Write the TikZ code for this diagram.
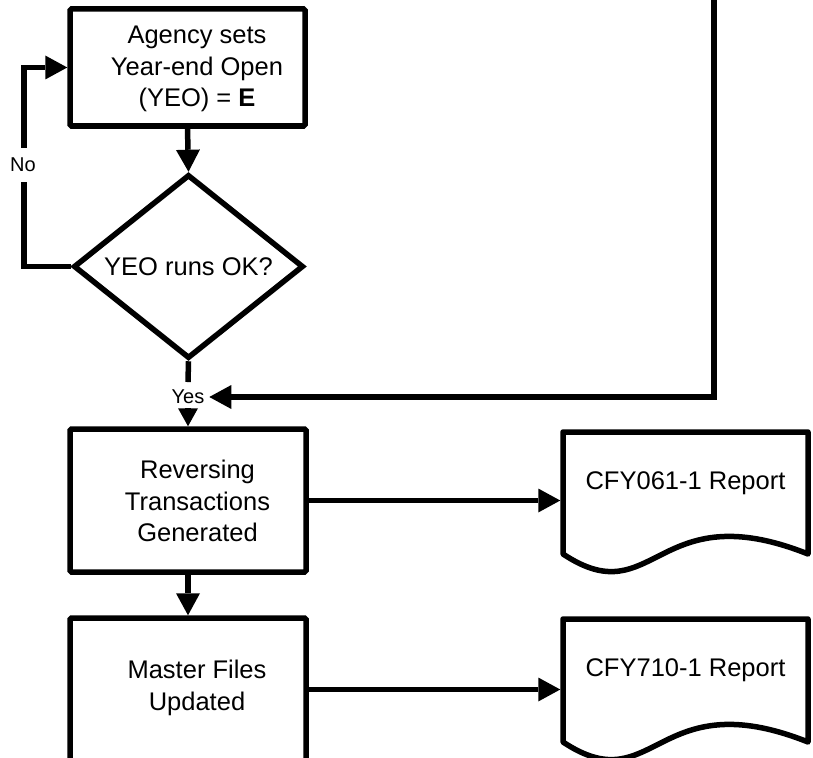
\documentclass[tikz,border=0pt]{standalone}
\usepackage{fontspec}
\setmainfont{Liberation Sans}
\usetikzlibrary{arrows.meta,shapes.geometric,calc}
\begin{document}
\begin{tikzpicture}[x=1pt,y=-1pt,
  line width=5.5pt,
  every node/.style={font=\fontsize{25.5}{31.5}\selectfont},
  procbox/.style={draw, rectangle, rounded corners=1.5pt, inner sep=0pt, outer sep=2.75pt},
  boxtext/.style={align=center, inner sep=0pt},
  decision/.style={draw, diamond, aspect=1.25, inner sep=0pt, outer sep=2.75pt,
    minimum width=230pt, minimum height=184pt},
  flowlabel/.style={font=\fontsize{20}{24}\selectfont, inner xsep=5pt, outer sep=0pt},
  docbox/.style={rectangle, inner sep=0pt, outer sep=0pt, minimum width=245pt},
  docline/.style={line join=round},
  arr/.style={-{Triangle[length=22pt,width=24pt,line width=0pt]}},
  arrsmall/.style={-{Triangle[length=18pt,width=20pt,line width=0pt]}}
]
\useasboundingbox (0,0) rectangle (813,757);
\clip (0,0) rectangle (813,757);

% process steps
\node[procbox, minimum width=235pt, minimum height=117pt] (agency) at (187.5,67.5) {};
\node[boxtext] (agencytext) at (197,69) {Agency sets\\Year-end Open\\(YEO) = \textbf{E}};
\node[decision] (yeook) at (188.5,266.5) {YEO runs OK?};
\node[flowlabel, inner ysep=8pt] (yes) at (188,397) {Yes};
\node[procbox, minimum width=236pt, minimum height=143pt] (reversing) at (188,500.5) {};
\node[boxtext] (reversingtext) at (197.5,501) {Reversing\\Transactions\\Generated};
\node[procbox, minimum width=236pt, minimum height=143pt] (master) at (188,689.5) {};
\node[boxtext] (mastertext) at (197,688) {Master Files\\Updated};

% printed reports
\node[docbox, minimum height=122pt] (cfy061) at (685.5,493) {};
\node[boxtext] (cfy061text) at (685.5,483) {CFY061-1 Report};
\node[docbox, minimum height=123pt] (cfy710) at (685.5,680.5) {};
\node[boxtext] (cfy710text) at (685.5,670) {CFY710-1 Report};
\foreach \doc in {cfy061,cfy710}{
  \draw[docline] (\doc.south west) -- (\doc.north west) -- (\doc.north east) -- (\doc.south east)
    .. controls ($(\doc.south east)+(-153,-61)$) and ($(\doc.south west)+(92,61)$) .. (\doc.south west) -- cycle;
}

% connectors
\draw[arr] (agency.south) -- (yeook.north);
\draw (yeook.south) -- (yes.north);
\draw[arrsmall] (yes.south) -- (reversing.north);
\draw[arr] (reversing.south) -- (master.north);
\draw[arr, shorten >=2.75pt] (reversing.east) -- (reversing.east -| cfy061.west);
\draw[arr, shorten >=2.75pt] (master.east) -- (master.east -| cfy710.west);
\coordinate (feedin) at (714,-10);
\draw[arr] (feedin) |- (yes.east);
\draw[arr] (yeook.west) -- ([xshift=-47pt]yeook.west) |- (agency.west);
\node[flowlabel, inner xsep=2pt, inner ysep=10pt, fill=white] (no) at (23,165) {No};
\end{tikzpicture}
\end{document}
